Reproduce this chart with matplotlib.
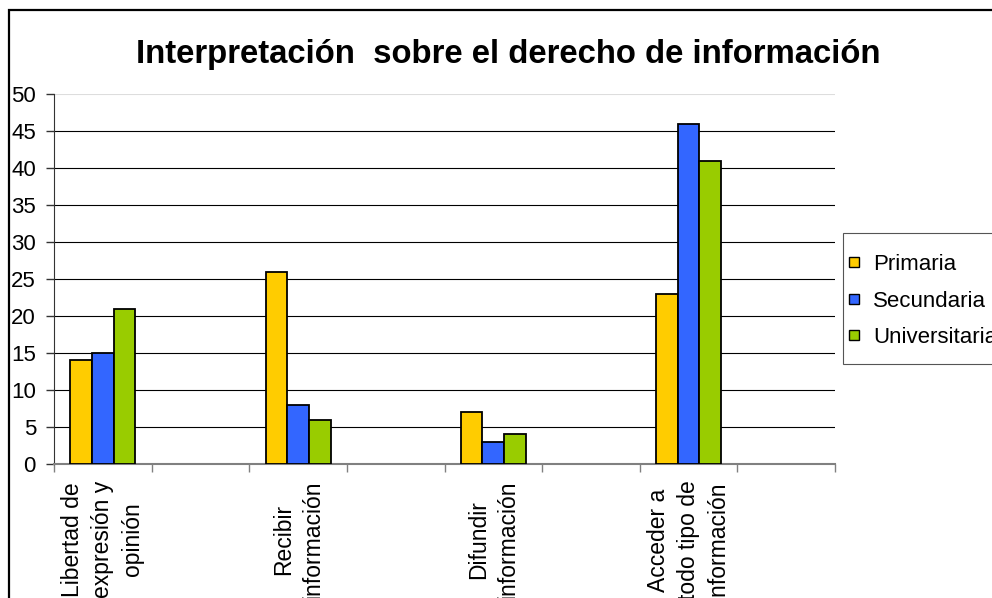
import matplotlib
matplotlib.use("Agg")
import matplotlib.pyplot as plt
import matplotlib.patches as mpatches
from matplotlib.lines import Line2D
import numpy as np

plt.rcParams['font.family'] = ['Liberation Sans', 'DejaVu Sans']

title = "Interpretación  sobre el derecho de información"
categories = ["Libertad de\nexpresión y\nopinión", "", "Recibir\ninformación", "",
              "Difundir\ninformación", "", "Acceder a\ntodo tipo de\ninformación", ""]
series_names = ["Primaria", "Secundaria", "Universitaria"]
primaria = [14, 0, 26, 0, 7, 0, 23, 0]
secundaria = [15, 0, 8, 0, 3, 0, 46, 0]
universitaria = [21, 0, 6, 0, 4, 0, 41, 0]
colors = ["#FFCC00", "#3366FF", "#99CC00"]
yticks = list(range(0, 55, 5))

W, H = 992, 598
fig = plt.figure(figsize=(W / 100, H / 100), dpi=100)
fig.patch.set_facecolor("white")

# outer chart frame
frame = mpatches.Rectangle((9 / W, -0.2), 1.2, 1.2 - 10 / H, transform=fig.transFigure,
                           fill=False, edgecolor="black", linewidth=1.6, zorder=10)
fig.patches.append(frame)

left, right, top, bottom = 54, 835, 94, 464
ax = fig.add_axes([left / W, 1 - bottom / H, (right - left) / W, (bottom - top) / H])

n = len(categories)
centers = np.arange(n) + 0.5
bw = 0.222
data = [primaria, secundaria, universitaria]
for k, (vals, c, name) in enumerate(zip(data, colors, series_names)):
    xs = [centers[i] + (k - 1) * bw for i in range(n) if vals[i] > 0]
    vs = [v for v in vals if v > 0]
    ax.bar(xs, vs, width=bw, color=c, edgecolor="black", linewidth=1.3, zorder=3, label=name)

ax.set_xlim(0, n)
ax.set_ylim(0, 50)
ax.set_yticks(yticks)
ax.set_yticklabels([str(t) for t in yticks])
for t in yticks[1:-1]:
    ax.axhline(t, color="black", linewidth=0.8, zorder=1)
ax.axhline(50, color="#dddddd", linewidth=0.8, zorder=1)

ax.set_xticks(np.arange(n + 1))
ax.set_xticklabels([])
ax.set_xticks(centers, minor=True)
ax.set_xticklabels(categories, minor=True, rotation=90, ha="center", va="top",
                   multialignment="center", fontsize=16.5, linespacing=1.38)
ax.tick_params(axis="x", which="minor", length=0, pad=12)
ax.tick_params(axis="x", which="major", length=6, color="#808080", width=1)
ax.tick_params(axis="y", length=6, color="#333333", width=1, labelsize=16, pad=7)

for s in ["top", "right"]:
    ax.spines[s].set_visible(False)
ax.spines["left"].set_color("#333333")
ax.spines["bottom"].set_color("#808080")
ax.spines["bottom"].set_linewidth(1.5)

fig.text(508 / W, 1 - 55 / H, title, ha="center", va="center", fontsize=23.7, fontweight="bold")

# legend box
box = mpatches.Rectangle((843 / W, 1 - 364 / H), 0.5, (364 - 233) / H, transform=fig.transFigure,
                         fill=True, facecolor="white", edgecolor="#555555", linewidth=0.8, zorder=5)
fig.patches.append(box)
handles = [Line2D([], [], linestyle="none", marker="s", markersize=6.5, markerfacecolor=c,
                  markeredgecolor="black", markeredgewidth=1.0) for c in colors]
leg = fig.legend(handles, series_names, loc="upper left", bbox_to_anchor=(847 / W, 1 - 254 / H),
                 fontsize=16, frameon=False,
                 handlelength=0.6, handletextpad=0.57, labelspacing=0.7,
                 borderpad=0, borderaxespad=0)
leg.set_zorder(6)

fig.savefig("out.png", dpi=100)
